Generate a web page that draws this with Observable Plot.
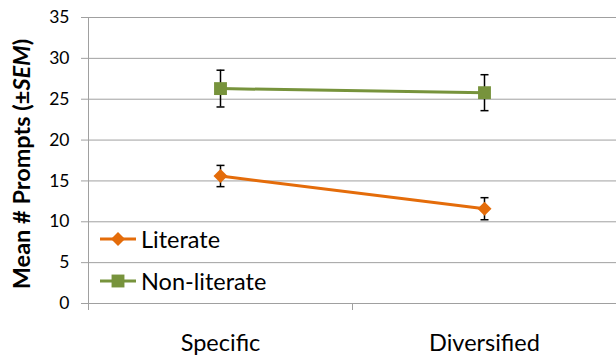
<!DOCTYPE html>
<html>
<head>
<meta charset="utf-8">
<script src="https://cdn.jsdelivr.net/npm/d3@7"></script>
<script src="https://cdn.jsdelivr.net/npm/@observablehq/plot@0.6"></script>
<style>
  html, body { margin: 0; padding: 0; background: #fff; }
  #wrap { position: relative; width: 616px; height: 356px; font-family: Lato, sans-serif; }
  #ytitle { position: absolute; left: 21px; top: 164px; transform: translate(-50%, -50%) rotate(-90deg);
    white-space: nowrap; font-weight: bold; font-size: 23.5px; color: #000; }
  #legend { position: absolute; left: 100px; top: 218px; font-size: 23.5px; color: #000; }
  .row { display: flex; align-items: center; height: 42px; }
  .row svg { margin-right: 5px; }
</style>
</head>
<body>
<div id="wrap"></div>
<script>
const categories = ["Specific", "Diversified"];
const seriesNames = ["Literate", "Non-literate"];
const seriesColors = ["#E46C0A", "#77933C"];
const literateMean = [15.6, 11.6];
const literateSEM = [1.3, 1.35];
const nonLiterateMean = [26.3, 25.8];
const nonLiterateSEM = [2.25, 2.2];
const yTicks = [0, 5, 10, 15, 20, 25, 30, 35];

const data = [];
categories.forEach((c, i) => {
  data.push({cat: c, series: seriesNames[0], mean: literateMean[i], sem: literateSEM[i]});
  data.push({cat: c, series: seriesNames[1], mean: nonLiterateMean[i], sem: nonLiterateSEM[i]});
});

const diamond = {draw(ctx, size) { const r = Math.sqrt(size / Math.PI); ctx.moveTo(0, -r); ctx.lineTo(r, 0); ctx.lineTo(0, r); ctx.lineTo(-r, 0); ctx.closePath(); }};
const square = {draw(ctx, size) { const r = Math.sqrt(size / Math.PI) * 0.92; ctx.rect(-r, -r, 2 * r, 2 * r); }};
const cap = {draw(ctx, size) { const r = Math.sqrt(size / Math.PI); ctx.moveTo(-r, 0); ctx.lineTo(r, 0); }};
const symbols = [diamond, square];

const axisColor = "#a0a0a0";

const frameTicks = (index, scales, values, dims) => {
  const x = scales.x, y = scales.y;
  const g = d3.create("svg:g").attr("stroke", axisColor).attr("stroke-width", 1);
  const bw = x.bandwidth();
  const bounds = categories.map(c => x(c)).concat([x(categories[categories.length - 1]) + bw]);
  const y0 = y(yTicks[0]);
  bounds.forEach((b, i) => {
    g.append("line").attr("x1", b + 0.5).attr("x2", b + 0.5)
      .attr("y1", i === 0 ? y(yTicks[yTicks.length - 1]) : y0).attr("y2", y0 + 7);
  });
  return g.node();
};

const chart = Plot.plot({
  width: 616,
  height: 356,
  marginLeft: 88,
  marginRight: 0,
  marginTop: 17,
  marginBottom: 53,
  style: {fontFamily: "Lato, sans-serif", background: "#fff"},
  x: {type: "band", domain: categories, padding: 0, label: null},
  y: {domain: [0, 35], label: null},
  marks: [
    Plot.gridY(yTicks, {stroke: axisColor, strokeOpacity: 1, strokeWidth: 1}),
    Plot.axisY(yTicks, {tickSize: 7, tickPadding: 12, stroke: axisColor, fontSize: 17.5, fill: "#000", label: null}),
    Plot.axisX({tickSize: 0, tickPadding: 31, fontSize: 23.5, fill: "#000", label: null}),
    frameTicks,
    Plot.line(data, {x: "cat", y: "mean", z: "series", stroke: "series", strokeWidth: 3}),
    Plot.ruleX(data, {x: "cat", y1: d => d.mean - d.sem, y2: d => d.mean + d.sem, stroke: "#000", strokeWidth: 1.5}),
    Plot.dot(data, {x: "cat", y: d => d.mean - d.sem, symbol: () => cap, r: 4, stroke: "#000", strokeWidth: 1.5}),
    Plot.dot(data, {x: "cat", y: d => d.mean + d.sem, symbol: () => cap, r: 4, stroke: "#000", strokeWidth: 1.5}),
    Plot.dot(data, {x: "cat", y: "mean", symbol: "series", fill: "series", stroke: "none", r: 7})
  ],
  color: {domain: seriesNames, range: seriesColors},
  symbol: {domain: seriesNames, range: symbols}
});

const wrap = document.getElementById("wrap");
wrap.appendChild(chart);

const title = document.createElement("div");
title.id = "ytitle";
title.innerHTML = "Mean # Prompts (±<i>SEM</i>)";
wrap.appendChild(title);

const legend = document.createElement("div");
legend.id = "legend";
seriesNames.forEach((name, i) => {
  const row = document.createElement("div");
  row.className = "row";
  const sw = d3.create("svg").attr("width", 36).attr("height", 16);
  sw.append("line").attr("x1", 0).attr("x2", 36).attr("y1", 8).attr("y2", 8)
    .attr("stroke", seriesColors[i]).attr("stroke-width", 3);
  sw.append("path").attr("transform", "translate(18,8)")
    .attr("d", d3.symbol(symbols[i], Math.PI * 7 * 7)())
    .attr("fill", seriesColors[i]);
  row.appendChild(sw.node());
  const t = document.createElement("span");
  t.textContent = name;
  row.appendChild(t);
  legend.appendChild(row);
});
wrap.appendChild(legend);
</script>
</body>
</html>
